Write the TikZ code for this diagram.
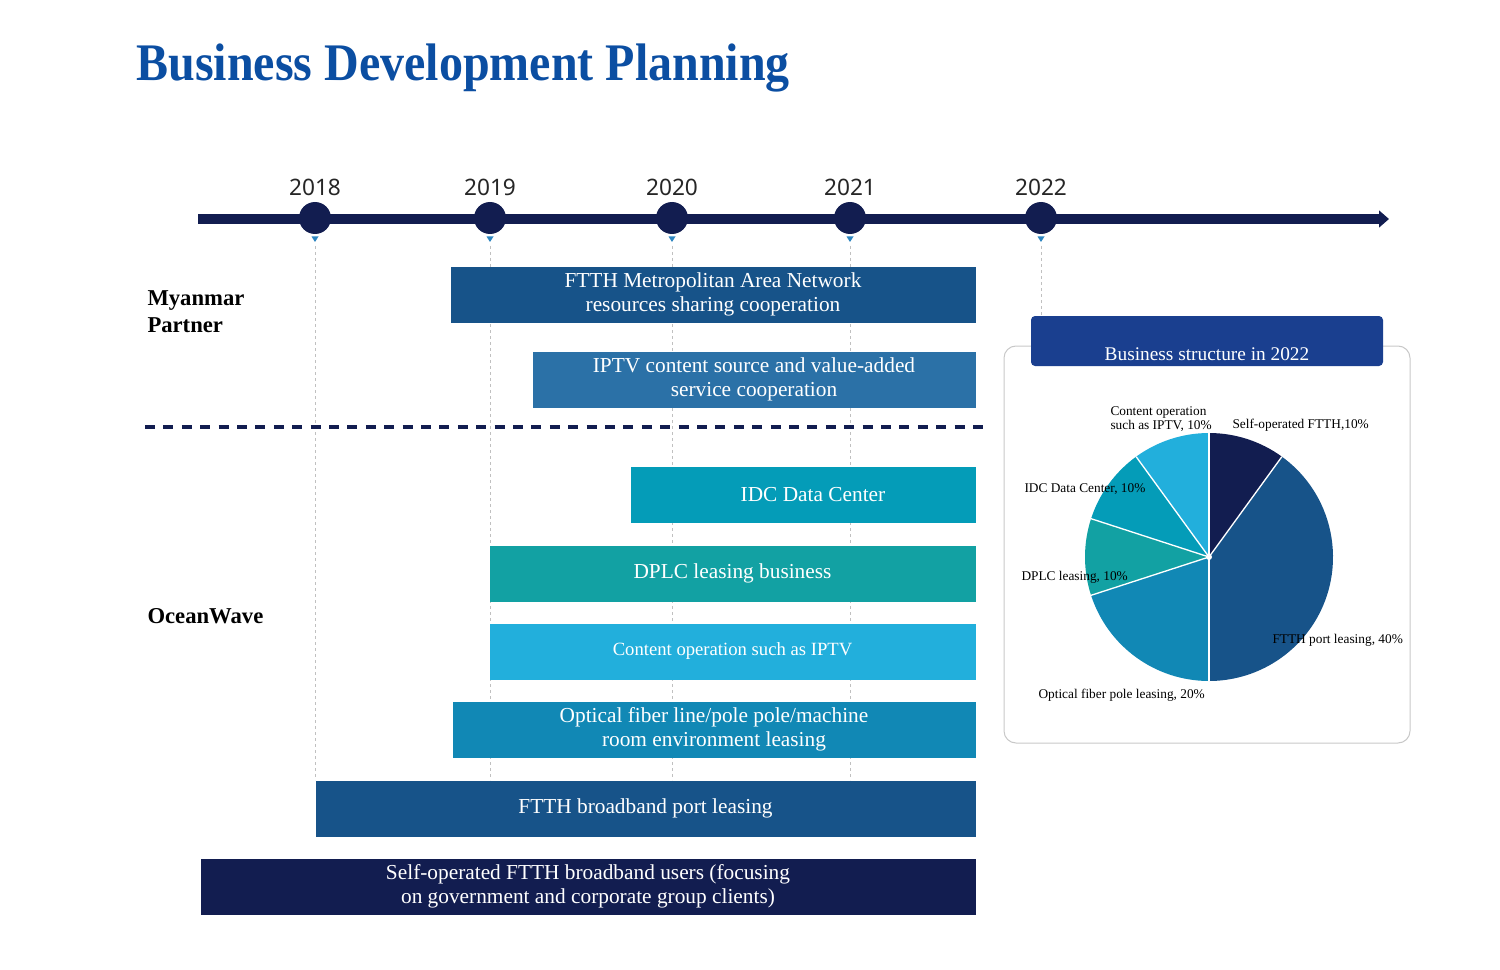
\documentclass[tikz,border=0pt]{standalone}
\usepackage{fontspec}
\setmainfont{Liberation Serif}
\newfontfamily\yearfont{Noto Sans}
\usetikzlibrary{arrows.meta}

\definecolor{navy}{RGB}{18,29,80}
\definecolor{titleblue}{RGB}{11,78,162}
\definecolor{deepblue}{RGB}{23,83,137}
\definecolor{midblue}{RGB}{43,113,167}
\definecolor{idcteal}{RGB}{4,156,184}
\definecolor{dplcteal}{RGB}{18,161,163}
\definecolor{skyblue}{RGB}{34,175,220}
\definecolor{fiberblue}{RGB}{17,136,181}
\definecolor{headblue}{RGB}{26,63,143}
\definecolor{markblue}{RGB}{46,134,193}
\definecolor{guidegray}{RGB}{192,192,192}
\definecolor{panelgray}{RGB}{200,200,200}

\tikzset{every picture/.style={line width=0.75pt}}
\tikzset{
  bar/.style={fill=#1, text=white, inner sep=0pt, anchor=north west, align=center,
    minimum height=42pt, font=\fontsize{16pt}{17.6pt}\selectfont},
  yeardot/.style={circle, fill=navy, inner sep=0pt, minimum size=24pt},
  yearlabel/.style={anchor=base, text=black!85, font=\yearfont\fontsize{17pt}{20pt}\selectfont},
  guide/.style={draw=guidegray, line width=0.75pt, dash pattern=on 2.25pt off 2.25pt},
  side label/.style={anchor=base west, align=left, inner sep=0pt, font=\bfseries\fontsize{17pt}{20pt}\selectfont},
  pie label/.style={anchor=base west, align=left, inner sep=0pt, font=\fontsize{10pt}{10.5pt}\selectfont},
}

\begin{document}
\begin{tikzpicture}[x=0.75pt,y=0.75pt,yscale=-1,xscale=1]
\useasboundingbox (0,0) rectangle (1500,970);

% Title
\node[anchor=base west, inner sep=0pt, text=titleblue, font=\bfseries\fontsize{36pt}{40pt}\selectfont] (title) at (136,81) {\scalebox{1}[1.1]{Business Development Planning}};

% Guide lines
\foreach \px in {315,490,672,850} {
  \draw[guide] (\px,246) -- (\px,780);
}
\draw[guide] (1041,246) -- (1041,316);

%Timeline
\coordinate (tl start) at (198,219);
\coordinate (tl end) at (1389,219);
\draw[navy, line width=8pt, -{Triangle[length=7.5pt,width=12.5pt]}] (tl start) -- (tl end);

\foreach \yr/\px in {2018/315,2019/490,2020/672,2021/850,2022/1041} {
  \node[yeardot] (dot\yr) at (\px,218) {};
  \node[yearlabel] (year\yr) at (\px,196) {\yr};
  \fill[markblue] (\px-3.5,236.5) -- (\px+3.5,236.5) -- (\px,242) -- cycle;
}

% Side labels
\node[side label] (partner) at (147,332) {Myanmar\\Partner};
\node[side label] (oceanwave) at (147,623) {OceanWave};

% Separator
\coordinate (sep left) at (145,427);
\coordinate (sep right) at (990,427);
\draw[navy, line width=2.6pt, dash pattern=on 7.5pt off 6.3pt] (sep left) -- (sep right);

%Bars
\node[bar=deepblue, minimum width=393.75pt] (ftthman) at (450,266) {FTTH Metropolitan Area Network\\resources sharing cooperation};
\node[bar=midblue, minimum width=332.25pt] (iptvcoop) at (532,351) {IPTV content source and value-added\\service cooperation};
\node[bar=idcteal, minimum width=258.75pt] (idc) at (630,466) {\hspace{15pt}IDC Data Center};
\node[bar=dplcteal, minimum width=364.5pt] (dplc) at (489,545) {DPLC leasing business};
\node[bar=skyblue, minimum width=364.5pt, font=\fontsize{14pt}{16pt}\selectfont] (content) at (489,623) {Content operation such as IPTV};
\node[bar=fiberblue, minimum width=392.25pt] (fiber) at (452,701) {Optical fiber line/pole pole/machine\\room environment leasing};
\node[bar=deepblue, minimum width=495pt] (ftthport) at (315,780) {FTTH broadband port leasing};
\node[bar=navy, minimum width=581.25pt] (selfop) at (200,858) {Self-operated FTTH broadband users (focusing\\on government and corporate group clients)};

% Structure panel
\draw[panelgray, rounded corners=9pt] (1004,346) rectangle (1410,743);
\node[fill=headblue, rounded corners=3pt, inner sep=0pt, minimum width=264pt, minimum height=37.5pt] (head) at (1207,341) {};
\node[anchor=base, text=white, font=\fontsize{14.5pt}{16pt}\selectfont] (headlabel) at (1207,360) {Business structure in 2022};

% Pie
\coordinate (pie) at (1209,557);
\foreach \from/\to/\col in {-90/-54/navy, -54/90/deepblue, 90/162/fiberblue, 162/198/dplcteal, 198/234/idcteal, 234/270/skyblue} {
  \fill[\col] (pie) -- ++(\from:124) arc[start angle=\from, end angle=\to, radius=124] -- cycle;
}
\foreach \a in {-90,-54,90,162,198,234} {
  \draw[white, line width=1pt] (pie) -- ++(\a:124);
}
\fill[white] (pie) circle (3);

% Pie labels
\node[pie label] (lcontent) at (1110,429) {Content operation\\such as IPTV, 10\%};
\node[pie label] (lself) at (1232,428) {Self-operated FTTH,10\%};
\node[pie label] (lidc) at (1024,492) {IDC Data Center, 10\%};
\node[pie label] (ldplc) at (1021,580) {DPLC leasing, 10\%};
\node[pie label] (lport) at (1272,643) {FTTH port leasing, 40\%};
\node[pie label] (lfiber) at (1038,698) {Optical fiber pole leasing, 20\%};

\end{tikzpicture}
\end{document}
